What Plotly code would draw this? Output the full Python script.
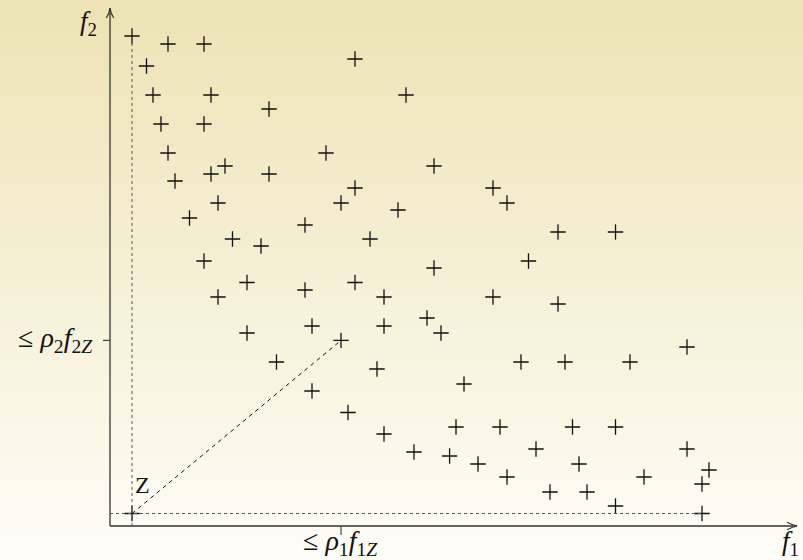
import plotly.graph_objects as go

# objective values (origin at the axes corner)
f1 = [22, 58, 94, 36.5, 245, 43, 101, 296, 159, 51, 94, 58, 216, 115, 101, 159, 324, 65,
      245, 383, 108, 231, 397, 288, 79.5, 195, 448, 505.5, 122.5, 151, 260, 94, 418.5, 324,
      137, 195, 245, 108, 274, 383, 448, 317, 331, 137, 202, 274, 231, 166.5, 267, 411, 455,
      520, 577, 354, 202, 238, 274, 346, 390, 462.5, 505.5, 304, 339.6, 368, 426, 577, 469,
      397, 534, 599, 592, 440, 477, 505.5, 592]
f2 = [490, 482, 482, 460, 467, 431, 431, 431, 417, 402, 402, 373, 373, 360, 352, 352, 360, 345,
      338, 338, 323, 323, 323, 316, 308, 301, 294, 294, 287, 280, 287, 265, 265, 258,
      243.5, 236, 243.5, 229, 229, 229, 222, 208, 193, 193, 200, 200, 185.6, 164, 157, 164, 164,
      164, 179, 142, 135, 113.5, 92, 99, 99, 99, 99, 74, 70, 62, 77, 77, 62,
      49, 49, 56, 42, 34, 34, 20, 12.5]
z_point = (22, 12.5)
ref_point = (231, 185.6)
f1_max_point = (592, 12.5)
f2_max_point = (22, 490)

X_RANGE = [-110, 693]
Y_RANGE = [-34, 526]
X_TIP = 687
Y_TIP = 518

fig = go.Figure()

# background gradient (top beige -> bottom near white)
top = (237, 227, 180)
bot = (254, 253, 247)
n = 140
shapes = []
for i in range(n):
    t = i / (n - 1)
    c = tuple(round(top[k] + (bot[k] - top[k]) * t) for k in range(3))
    shapes.append(dict(type="rect", xref="paper", yref="paper",
                       x0=0, x1=1, y0=1 - (i + 1) / n, y1=1 - i / n + 0.002,
                       fillcolor="rgb(%d,%d,%d)" % c, line=dict(width=0), layer="below"))

axis_col = "#333333"
# axes
shapes.append(dict(type="line", x0=0, y0=0, x1=X_TIP, y1=0, line=dict(color=axis_col, width=1.3)))
shapes.append(dict(type="line", x0=0, y0=0, x1=0, y1=Y_TIP, line=dict(color=axis_col, width=1.3)))
# arrow heads
shapes.append(dict(type="path", path="M -3.8,508 Q -0.8,512 0,%d Q 0.8,512 3.8,508" % Y_TIP,
                   line=dict(color=axis_col, width=1.2)))
shapes.append(dict(type="path", path="M 677,3.8 Q 683,0.8 %d,0 Q 683,-0.8 677,-3.8" % X_TIP,
                   line=dict(color=axis_col, width=1.2)))
# ticks
shapes.append(dict(type="line", x0=-7, y0=ref_point[1], x1=0, y1=ref_point[1],
                   line=dict(color=axis_col, width=1.1)))
shapes.append(dict(type="line", x0=ref_point[0], y0=0, x1=ref_point[0], y1=-9,
                   line=dict(color=axis_col, width=1.1)))
# dotted guide lines
shapes.append(dict(type="line", x0=z_point[0], y0=0, x1=f2_max_point[0], y1=f2_max_point[1] - 6,
                   line=dict(color="#555555", width=1, dash="dot")))
shapes.append(dict(type="line", x0=0, y0=z_point[1], x1=f1_max_point[0], y1=f1_max_point[1],
                   line=dict(color="#555555", width=1, dash="dot")))
# dashed line Z -> reference point
shapes.append(dict(type="line", x0=z_point[0], y0=z_point[1], x1=ref_point[0], y1=ref_point[1],
                   line=dict(color="#111111", width=1, dash="4px,4px")))

fig.add_trace(go.Scatter(
    x=f1 + [z_point[0]], y=f2 + [z_point[1]], mode="markers",
    marker=dict(symbol="cross-thin", size=11, line=dict(color="#111111", width=1.3)),
    hoverinfo="skip", showlegend=False))

serif = "'Liberation Serif', 'Times New Roman', serif"
ann = [
    dict(x=-22, y=503, text="<i>f</i><sub>2</sub>", xanchor="center", yanchor="middle",
         font=dict(size=27)),
    dict(x=680, y=-17, text="<i>f</i><sub>1</sub>", xanchor="center", yanchor="middle",
         font=dict(size=27)),
    dict(x=-15, y=ref_point[1] + 1, text="≤ <i>ρ</i><sub>2</sub><i>f</i><sub>2<i>Z</i></sub>",
         xanchor="right", yanchor="middle", font=dict(size=28)),
    dict(x=ref_point[0] - 1, y=-16, text="≤ <i>ρ</i><sub>1</sub><i>f</i><sub>1<i>Z</i></sub>",
         xanchor="center", yanchor="middle", font=dict(size=28)),
    dict(x=z_point[0] + 10.5, y=z_point[1] + 29, text="Z", xanchor="center", yanchor="middle",
         font=dict(size=24)),
]
for a in ann:
    a.update(xref="x", yref="y", showarrow=False)
    a["font"].update(family=serif, color="#111111")

fig.update_layout(
    width=803, height=560, margin=dict(l=0, r=0, t=0, b=0),
    paper_bgcolor="rgba(0,0,0,0)", plot_bgcolor="rgba(0,0,0,0)",
    xaxis=dict(range=X_RANGE, visible=False, fixedrange=True),
    yaxis=dict(range=Y_RANGE, visible=False, fixedrange=True),
    shapes=shapes, annotations=ann, showlegend=False,
)
fig.write_html("out.html", post_script="document.body.style.margin='0';",
               config={"displayModeBar": False})
